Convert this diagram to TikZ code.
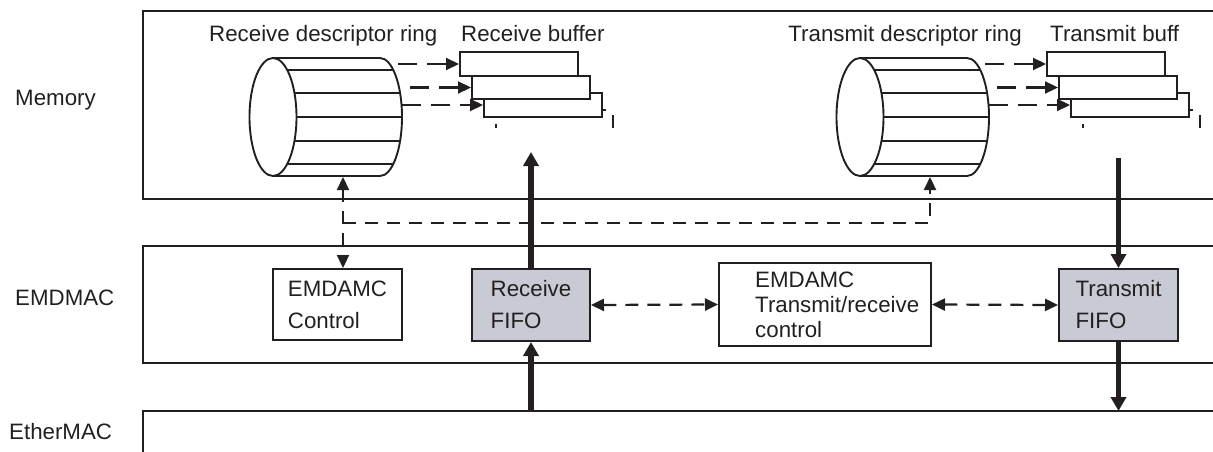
\documentclass[tikz,border=0pt]{standalone}
\usepackage{fontspec}
\setmainfont{Liberation Sans}
\usetikzlibrary{arrows.meta}
\definecolor{fifogray}{RGB}{200,203,212}
\definecolor{ink}{RGB}{35,31,32}
\begin{document}
\begin{tikzpicture}[x=1pt,y=-1pt,
  every node/.style={font=\fontsize{22.3pt}{32pt}\selectfont, text=ink},
  >={Triangle[length=13pt,width=12pt]},
  layer/.style={draw=ink, line width=2pt},
  box/.style={draw=ink, line width=2pt, inner sep=0pt, align=left},
  fifo/.style={box, fill=fifogray},
  buf/.style={draw=ink, line width=2pt, fill=white, minimum width=118pt, minimum height=23.5pt, inner sep=0pt},
  ringline/.style={draw=ink, line width=1.9pt},
  dashline/.style={draw=ink, line width=2.2pt, dash pattern=on 13pt off 9pt},
  shortdash/.style={draw=ink, line width=2.2pt, dash pattern=on 19pt off 10pt},
  bigarrow/.style={draw=ink, line width=5.8pt, -{Triangle[length=14pt,width=15pt]}},
  lbl/.style={inner sep=0pt}
]
\useasboundingbox (0,0) rectangle (1213,452);

% layers
\draw[layer] (1213,11) -- (143,11) -- (143,199) -- (1213,199);
\draw[layer] (1213,246) -- (143,246) -- (143,363) -- (1213,363);
\draw[layer] (1213,411) -- (143,411) -- (143,452);

% layer labels
\node[lbl, anchor=base west] (lmem) at (15,106) {Memory};
\node[lbl, anchor=base west] (lemd) at (15,305) {EMDMAC};
\node[lbl, anchor=base west] (leth) at (9,439) {EtherMAC};

% top titles
\node[lbl, anchor=base west] (trdr) at (209,42) {Receive descriptor ring};
\node[lbl, anchor=base west] (trb) at (461,42) {Receive buffer};
\node[lbl, anchor=base east] (ttdr) at (1022,42) {Transmit descriptor ring};
\node[lbl, anchor=base west] (ttb) at (1050,42) {Transmit buff};

% rings and buffers
\foreach \ox/\nm in {0/r,587/t}{
\begin{scope}[xshift=\ox pt]
  \draw[ringline] (273,117) ellipse[x radius=23.5pt, y radius=59pt];
  \draw[ringline] (273,58) -- (380,58) arc[start angle=90,end angle=-90,x radius=22pt,y radius=59pt] -- (273,176);
  \foreach \yy in {70,93,117,141,164}{
    \pgfmathsetmacro\s{sqrt(1-((\yy-117)/59)^2)}
    \draw[ringline] (273+23.5*\s,\yy) -- (380+22*\s,\yy);
  }
  \coordinate (\nm ringbot) at (343,177);
  \node[buf] (\nm bthree) at (543,105) {};
  \node[buf] (\nm btwo) at (531,87.5) {};
  \node[buf] (\nm bone) at (519,64) {};
  \coordinate (\nm sone) at (398,64);
  \coordinate (\nm stwo) at (410,87.5);
  \coordinate (\nm sthree) at (402,105);
  \draw[shortdash,->] (\nm sone) -- (\nm bone.west);
  \draw[shortdash,->] (\nm stwo) -- (\nm btwo.west);
  \draw[shortdash,->] (\nm sthree) -- (\nm bthree.west);
  \draw[ringline, line width=1.6pt] (602,110) -- (606,110);
  \draw[ringline, line width=1.6pt] (496,124) -- (496,128);
  \draw[ringline, line width=1.6pt] (613,115) -- (613,128);
\end{scope}}

% EMDMAC blocks
\node[box, minimum width=129pt, minimum height=71pt] (ctrl) at (337.5,304.5) {EMDAMC\\Control};
\node[fifo, minimum width=118pt, minimum height=72pt] (rfifo) at (531,305) {Receive\\FIFO};
\node[box, minimum width=212pt, minimum height=83pt] (trx) at (825,304.5) {};
\node[lbl, anchor=west, align=left, font=\fontsize{22.3pt}{25pt}\selectfont] (trxtext) at (755,305) {EMDAMC\\Transmit/receive\\control};
\node[fifo, minimum width=119pt, minimum height=72pt] (tfifo) at (1118.5,305) {Transmit\\FIFO};

% dashed control connectors
\coordinate (busy) at (0,223);
\draw[dashline,<->] (rringbot) -- (ctrl.north -| rringbot);
\draw[dashline,->] (rringbot |- busy) -- (tringbot |- busy) -- (tringbot);
\draw[dashline,<->] (rfifo.east) -- (trx.west);
\draw[dashline,<->] (trx.east) -- (tfifo.west);

% thick data arrows
\coordinate (rtop) at (531,152);
\coordinate (rbot) at (531,411);
\coordinate (ttop) at (1118.5,158);
\coordinate (tbot) at (1118.5,411);
\draw[bigarrow] (rfifo.north) -- (rtop);
\draw[bigarrow] (rbot) -- (rfifo.south);
\draw[bigarrow] (ttop) -- (tfifo.north);
\draw[bigarrow] (tfifo.south) -- (tbot);
\end{tikzpicture}
\end{document}
